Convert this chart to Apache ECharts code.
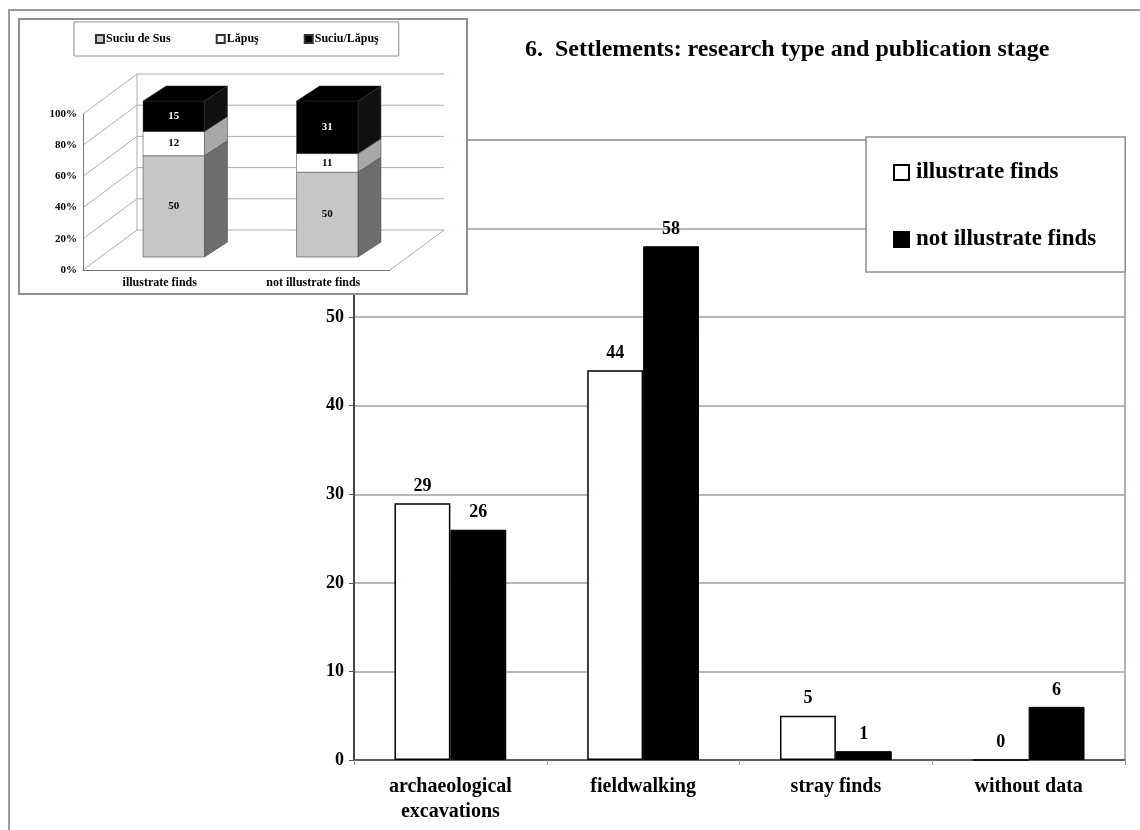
<!DOCTYPE html>
<html>
<head>
<meta charset="utf-8">
<script src="https://cdn.jsdelivr.net/npm/echarts@6/dist/echarts.min.js"></script>
<style>html,body{margin:0;padding:0;background:#fff}#c{width:1140px;height:830px}</style>
</head>
<body>
<div id="c"></div>
<script>
// ---- main chart data ----
const categories = ['archaeological\nexcavations', 'fieldwalking', 'stray finds', 'without data'];
const illustrateFinds = [29, 44, 5, 0];
const notIllustrateFinds = [26, 58, 1, 6];
const yTicks = [0, 10, 20, 30, 40, 50, 60, 70];

// ---- inset chart data ----
const insetCategories = ['illustrate finds', 'not illustrate finds'];
const suciuDeSus = [50, 50];
const lapus = [12, 11];
const suciuLapus = [15, 31];
const insetTicks = [0, 20, 40, 60, 80, 100];

const SERIF = 'Liberation Serif';
const FONT = { fontFamily: SERIF, fontWeight: 'bold', color: '#000' };

// stacked percentage segments built from the inset values
const insetSeriesVals = [suciuDeSus, lapus, suciuLapus];
const totals = insetCategories.map((_, i) => insetSeriesVals.reduce((s, arr) => s + arr[i], 0));
function segData(k) {
  return insetCategories.map((_, i) => {
    let lo = 0;
    for (let j = 0; j < k; j++) lo += insetSeriesVals[j][i] / totals[i] * 100;
    const hi = lo + insetSeriesVals[k][i] / totals[i] * 100;
    return [i, lo, hi, insetSeriesVals[k][i]];
  });
}

const OFFX = 14, OFFY = -13;   // bar position inside 3D box
const DX = 23, DY = -15;       // bar depth
const WX = 54, WY = -40;       // wall depth
const segStyles = [
  { front: '#c6c6c6', side: '#6e6e6e', top: '#9a9a9a', text: '#000' },
  { front: '#ffffff', side: '#a8a8a8', top: '#d0d0d0', text: '#000' },
  { front: '#000000', side: '#111111', top: '#000000', text: '#fff' }
];

function bar3d(k, isTop) {
  const st = segStyles[k];
  return function (params, api) {
    const cat = api.value(0), lo = api.value(1), hi = api.value(2), lab = api.value(3);
    const pLo = api.coord([cat, lo]);
    const pHi = api.coord([cat, hi]);
    const w = api.size([1, 0])[0] * 0.4;
    const x0 = pLo[0] - w / 2 + OFFX, x1 = x0 + w;
    const yLo = pLo[1] + OFFY, yHi = pHi[1] + OFFY;
    const children = [
      { type: 'polygon', shape: { points: [[x1, yLo], [x1 + DX, yLo + DY], [x1 + DX, yHi + DY], [x1, yHi]] },
        style: { fill: st.side, stroke: '#333', lineWidth: 0.5 } },
      { type: 'rect', shape: { x: x0, y: yHi, width: w, height: yLo - yHi },
        style: { fill: st.front, stroke: '#333', lineWidth: 0.5 } }
    ];
    if (isTop) {
      children.push({ type: 'polygon', shape: { points: [[x0, yHi], [x1, yHi], [x1 + DX, yHi + DY], [x0 + DX, yHi + DY]] },
        style: { fill: st.top, stroke: '#333', lineWidth: 0.5 } });
    }
    children.push({ type: 'text', style: { text: String(lab), x: (x0 + x1) / 2, y: (yLo + yHi) / 2,
      align: 'center', verticalAlign: 'middle', fill: st.text, font: 'bold 11px "Liberation Serif"' } });
    return { type: 'group', children };
  };
}

function walls(params, api) {
  const cs = params.coordSys;
  const v = api.value(0);
  const y = api.coord([0, v])[1];
  const L = cs.x, R = cs.x + cs.width;
  const lineStyle = { stroke: '#b3abab', lineWidth: 1, fill: null };
  const children = [
    { type: 'polyline', shape: { points: [[L, y], [L + WX, y + WY], [R + WX, y + WY]] }, style: lineStyle }
  ];
  if (v === 0) {
    const yTop = api.coord([0, 100])[1];
    children.push({ type: 'line', shape: { x1: R, y1: y, x2: R + WX, y2: y + WY }, style: lineStyle });
    children.push({ type: 'line', shape: { x1: L + WX, y1: y + WY, x2: L + WX, y2: yTop + WY }, style: lineStyle });
  }
  return { type: 'group', children };
}

const chart = echarts.init(document.getElementById('c'), null, { renderer: 'canvas' });
chart.setOption({
  backgroundColor: '#fff',
  animation: false,
  title: {
    text: '6.  Settlements: research type and publication stage',
    left: 520, top: 33,
    textStyle: { ...FONT, fontSize: 24 }
  },
  graphic: [
    { type: 'rect', zlevel: 0, z: 0, shape: { x: 9, y: 10, width: 1150, height: 840 },
      style: { fill: null, stroke: '#9d9d9d', lineWidth: 2 } },
    { type: 'rect', zlevel: 1, z: 0, shape: { x: 19, y: 19, width: 448, height: 275 },
      style: { fill: '#fff', stroke: '#8f8f8f', lineWidth: 2 } }
  ],
  legend: [
    {
      data: ['illustrate finds', 'not illustrate finds'],
      orient: 'vertical', left: 866, top: 137,
      padding: [24, 29, 21, 27], itemGap: 44,
      itemWidth: 15, itemHeight: 15, icon: 'rect',
      backgroundColor: '#fff', borderColor: '#8f8f8f', borderWidth: 1.5,
      textStyle: { ...FONT, fontSize: 23, padding: [0, 0, 0, 2] }
    },
    {
      data: ['Suciu de Sus', 'Lăpuş', 'Suciu/Lăpuş'],
      orient: 'horizontal', left: 74, top: 22, zlevel: 1, z: 10,
      padding: [11, 20, 11, 21], itemGap: 45,
      itemWidth: 8, itemHeight: 8, icon: 'rect',
      backgroundColor: '#fff', borderColor: '#8f8f8f', borderWidth: 1,
      textStyle: { ...FONT, fontSize: 12, padding: [0, 0, 0, -3] }
    }
  ],
  grid: [
    { left: 354, right: 15, top: 140, bottom: 70, show: true, borderColor: '#9d9494', borderWidth: 1.5 },
    { left: 83, width: 307, top: 114, height: 156, show: false, zlevel: 1 }
  ],
  xAxis: [
    {
      type: 'category', gridIndex: 0, data: categories,
      axisLine: { lineStyle: { color: '#444', width: 1.5 } },
      axisTick: { show: true, length: 5, lineStyle: { color: '#999' } },
      axisLabel: { ...FONT, fontSize: 20, margin: 14, lineHeight: 25 },
      splitLine: { show: false }
    },
    {
      type: 'category', gridIndex: 1, data: insetCategories, zlevel: 1, z: 3,
      axisLine: { lineStyle: { color: '#777', width: 1 } },
      axisTick: { show: false },
      axisLabel: { ...FONT, fontSize: 12, margin: 7 }
    }
  ],
  yAxis: [
    {
      type: 'value', gridIndex: 0, min: 0, max: 70, interval: 10,
      axisLine: { show: true, lineStyle: { color: '#222', width: 1.5 } },
      axisTick: { show: true, length: 5, lineStyle: { color: '#555' } },
      axisLabel: { ...FONT, fontSize: 18, margin: 10,
        formatter: v => (v <= 50 ? String(v) : '') },
      splitLine: { show: true, lineStyle: { color: '#a59c9c', width: 1.5 } }
    },
    {
      type: 'value', gridIndex: 1, min: 0, max: 100, interval: 20, zlevel: 1, z: 3,
      axisLine: { show: true, lineStyle: { color: '#777', width: 1 } },
      axisTick: { show: false },
      axisLabel: { ...FONT, fontSize: 11, margin: 6, formatter: '{value}%' },
      splitLine: { show: false }
    }
  ],
  series: [
    {
      name: 'illustrate finds', type: 'bar', xAxisIndex: 0, yAxisIndex: 0,
      data: illustrateFinds, barWidth: '29%', barGap: '0%',
      itemStyle: { color: '#fff', borderColor: '#000', borderWidth: 1.5 },
      label: { show: true, position: 'top', distance: 8, ...FONT, fontSize: 18 }
    },
    {
      name: 'not illustrate finds', type: 'bar', xAxisIndex: 0, yAxisIndex: 0,
      data: notIllustrateFinds, barWidth: '29%', barGap: '0%',
      itemStyle: { color: '#000', borderColor: '#000', borderWidth: 1 },
      label: { show: true, position: 'top', distance: 8, ...FONT, fontSize: 18 }
    },
    {
      name: 'walls', type: 'custom', xAxisIndex: 1, yAxisIndex: 1, zlevel: 1, z: 2,
      data: insetTicks.map(v => [v]), renderItem: walls, silent: true, clip: false,
      encode: { y: 0 }
    },
    {
      name: 'Suciu de Sus', type: 'custom', xAxisIndex: 1, yAxisIndex: 1, zlevel: 1, z: 4,
      data: segData(0), renderItem: bar3d(0, false), clip: false,
      itemStyle: { color: '#c6c6c6', borderColor: '#333', borderWidth: 0.5 },
      encode: { x: 0, y: 2 }
    },
    {
      name: 'Lăpuş', type: 'custom', xAxisIndex: 1, yAxisIndex: 1, zlevel: 1, z: 5,
      data: segData(1), renderItem: bar3d(1, false), clip: false,
      itemStyle: { color: '#ffffff', borderColor: '#333', borderWidth: 0.5 },
      encode: { x: 0, y: 2 }
    },
    {
      name: 'Suciu/Lăpuş', type: 'custom', xAxisIndex: 1, yAxisIndex: 1, zlevel: 1, z: 6,
      data: segData(2), renderItem: bar3d(2, true), clip: false,
      itemStyle: { color: '#000000', borderColor: '#333', borderWidth: 0.5 },
      encode: { x: 0, y: 2 }
    }
  ]
});
</script>
</body>
</html>
